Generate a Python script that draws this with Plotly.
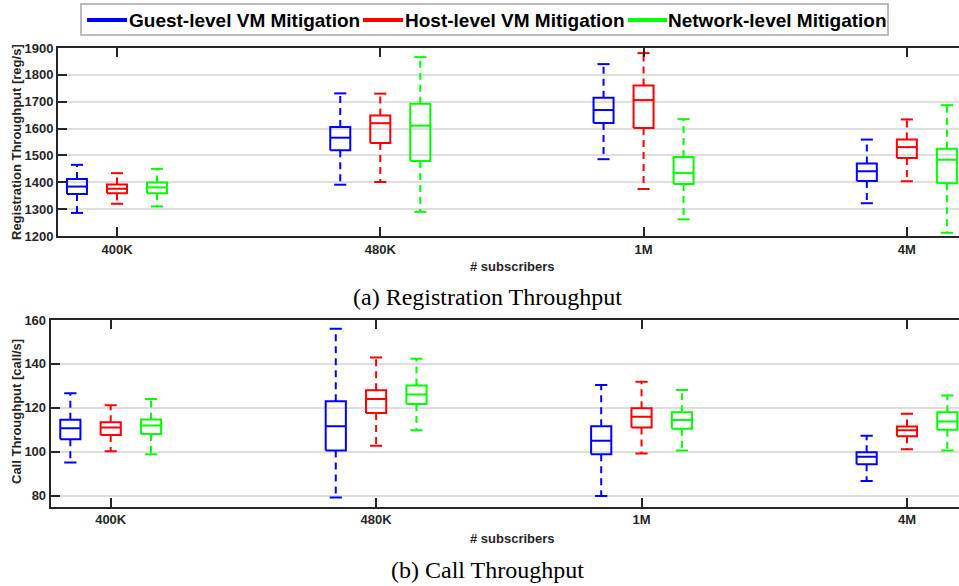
import plotly.graph_objects as go

# ---------------- data ----------------
categories = ["400K", "480K", "1M", "4M"]
series_names = ["Guest-level VM Mitigation", "Host-level VM Mitigation", "Network-level Mitigation"]
series_colors = ["#0000FF", "#FF0000", "#00FF00"]

# each entry: (lower whisker, q1, median, q3, upper whisker)
reg_guest = [(1286, 1356, 1384, 1412, 1465), (1391, 1519, 1566, 1606, 1731),
             (1486, 1621, 1669, 1715, 1840), (1322, 1405, 1441, 1470, 1559)]
reg_host = [(1320, 1359, 1376, 1392, 1434), (1401, 1546, 1620, 1649, 1730),
            (1375, 1602, 1706, 1760, 1881), (1404, 1490, 1531, 1559, 1634)]
reg_network = [(1310, 1359, 1381, 1399, 1450), (1290, 1479, 1611, 1692, 1866),
               (1262, 1394, 1435, 1494, 1635), (1212, 1396, 1484, 1525, 1687)]

call_guest = [(95, 105.6, 110.7, 114.5, 126.6), (79.1, 100.5, 111.6, 123, 156),
              (79.8, 98.8, 105, 111.6, 130.4), (86.6, 94.2, 97.7, 99.7, 107.3)]
call_host = [(100.2, 107.6, 111, 113.4, 121.2), (102.7, 117.6, 124, 128, 142.9),
             (99.1, 111, 115.9, 119.8, 131.8), (101.1, 107, 109.8, 111.5, 117.3)]
call_network = [(98.8, 108, 111.9, 114.7, 124), (109.8, 121.7, 126, 130.2, 142.3),
                (100.5, 110.4, 114.4, 118, 128.1), (100.5, 110, 113.7, 117.9, 125.6)]

reg_ticks = [1200, 1300, 1400, 1500, 1600, 1700, 1800, 1900]
call_ticks = [80, 100, 120, 140, 160]

# ---------------- layout constants ----------------
W, H = 959, 586
offsets = [-0.152, 0.0, 0.152]
box_half = 0.038
cap_half = 0.023
AX = "#262626"
GRID = "#dedede"

fig = go.Figure()


def add_series(stats, color, offset, xa, ya):
    sx, sy, dx, dy = [], [], [], []
    for i, (lo, q1, med, q3, hi) in enumerate(stats):
        c = i + 1 + offset
        sx += [c - box_half, c + box_half, c + box_half, c - box_half, c - box_half, None]
        sy += [q1, q1, q3, q3, q1, None]
        sx += [c - box_half, c + box_half, None]
        sy += [med, med, None]
        sx += [c - cap_half, c + cap_half, None, c - cap_half, c + cap_half, None]
        sy += [hi, hi, None, lo, lo, None]
        dx += [c, c, None, c, c, None]
        dy += [q3, hi, None, q1, lo, None]
    fig.add_trace(go.Scatter(x=dx, y=dy, mode="lines", xaxis=xa, yaxis=ya,
                             line=dict(color=color, width=2, dash="7px,5px"),
                             showlegend=False, hoverinfo="skip"))
    fig.add_trace(go.Scatter(x=sx, y=sy, mode="lines", xaxis=xa, yaxis=ya,
                             line=dict(color=color, width=2),
                             showlegend=False, hoverinfo="skip"))


for stats, col, off in zip([reg_guest, reg_host, reg_network], series_colors, offsets):
    add_series(stats, col, off, "x", "y")
for stats, col, off in zip([call_guest, call_host, call_network], series_colors, offsets):
    add_series(stats, col, off, "x2", "y2")

tickfont = dict(family="Liberation Sans", size=13, color=AX, weight="bold")
xcommon = dict(tickvals=[1, 2, 3, 4], ticktext=categories, ticks="inside", ticklen=9,
               tickwidth=2, tickcolor=AX, showline=True, linewidth=2, linecolor=AX,
               mirror="ticks", showgrid=False, zeroline=False, tickfont=tickfont,
               automargin=False, fixedrange=True)
ycommon = dict(ticks="inside", ticklen=9, tickwidth=2, tickcolor=AX, showline=True,
               linewidth=2, linecolor=AX, showgrid=True, gridcolor=GRID, gridwidth=2,
               zeroline=False, tickfont=tickfont, automargin=False, fixedrange=True)

fig.update_layout(
    width=W, height=H, margin=dict(l=0, r=0, t=0, b=0),
    paper_bgcolor="white", plot_bgcolor="white", showlegend=False,
    xaxis=dict(domain=[58 / W, 1], range=[0.776, 4.198], anchor="y", **xcommon),
    yaxis=dict(domain=[1 - 236 / H, 1 - 48 / H], range=[1200, 1900], tickvals=reg_ticks,
               anchor="x", **ycommon),
    xaxis2=dict(domain=[50.7 / W, 1], range=[0.774, 4.196], anchor="y2", **xcommon),
    yaxis2=dict(domain=[1 - 506.5 / H, 1 - 320 / H], range=[75, 160], tickvals=call_ticks,
                anchor="x2", **ycommon),
)


def px(x):
    return x / W


def py(y):
    return 1 - y / H


labfont = dict(family="Liberation Sans", size=13, color=AX, weight="bold")
anns = [
    dict(text="Registration Throughput [reg/s]", x=px(16), y=py(142), textangle=-90, font=labfont),
    dict(text="Call Throughput [call/s]", x=px(16), y=py(412), textangle=-90, font=labfont),
    dict(text="# subscribers", x=px(512), y=py(266), font=labfont),
    dict(text="# subscribers", x=px(512), y=py(538), font=labfont),
    dict(text="(a) Registration Throughput", x=px(487), y=py(297),
         font=dict(family="Liberation Serif", size=24, color="black")),
    dict(text="(b) Call Throughput", x=px(487), y=py(570),
         font=dict(family="Liberation Serif", size=24, color="black")),
]
for a in anns:
    a.update(xref="paper", yref="paper", showarrow=False, xanchor="center", yanchor="middle")

# legend (custom, drawn as layout decoration)
legend_line_x = [(87, 127), (363, 403), (628, 667)]
legend_text_x = [128, 404, 667]
shapes = [dict(type="rect", xref="paper", yref="paper", x0=px(81), x1=px(888), y0=py(35), y1=py(4),
               line=dict(color="#a6a6a6", width=1.5), fillcolor="white", layer="above")]
for (x0, x1), tx, name, col in zip(legend_line_x, legend_text_x, series_names, series_colors):
    shapes.append(dict(type="line", xref="paper", yref="paper", x0=px(x0), x1=px(x1),
                       y0=py(20), y1=py(20), line=dict(color=col, width=4), layer="above"))
    anns.append(dict(text=name, x=px(tx), y=py(21), xref="paper", yref="paper", showarrow=False,
                     xanchor="left", yanchor="middle", borderpad=0,
                     font=dict(family="Liberation Sans", size=19, color="black", weight="bold")))

fig.update_layout(annotations=anns, shapes=shapes)
fig.write_html("out.html")
